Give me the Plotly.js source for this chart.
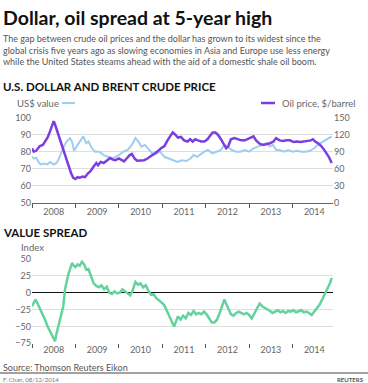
<!DOCTYPE html>
<html><head><meta charset="utf-8">
<script src="https://cdn.plot.ly/plotly-3.0.1.min.js"></script>
<style>html,body{margin:0;padding:0;background:#fff}#chart{width:368px;height:383px}</style>
</head><body><div id="chart"></div>
<script>
// ---- Data (decimal years) ----
const yearLabels = ['2008','2009','2010','2011','2012','2013','2014'];

const dollarYears = [2008.0,2008.05,2008.1,2008.15,2008.2,2008.28,2008.35,2008.42,2008.5,2008.57,2008.62,2008.68,2008.75,2008.8,2008.87,2008.92,2008.97,
 2009.05,2009.12,2009.18,2009.25,2009.3,2009.38,2009.45,2009.55,2009.65,2009.75,2009.85,2009.92,
 2010.0,2010.1,2010.2,2010.3,2010.38,2010.45,2010.52,2010.6,2010.7,2010.8,2010.88,2010.95,
 2011.05,2011.15,2011.25,2011.35,2011.45,2011.55,2011.65,2011.72,2011.8,2011.9,2011.97,
 2012.05,2012.15,2012.25,2012.35,2012.43,2012.5,2012.6,2012.7,2012.8,2012.9,
 2013.0,2013.1,2013.2,2013.3,2013.4,2013.48,2013.55,2013.62,2013.7,2013.8,2013.9,
 2014.0,2014.1,2014.2,2014.3,2014.4,2014.5,2014.58,2014.65,2014.72,2014.8,2014.9];
const dollarValues = [77,76,76.5,74,72.5,73,72.5,74,72.5,73.5,76,80,84,86,88,86,80.5,
 84,87,89,85,86,82,80,80,78,77,76,77,
 78,80,81,84,88,86,83,84,81,78,79,80,
 77,76,75,74,75,74.5,76,78,77,79,80,
 81,79,80,81,84,83,81,80,80,81,
 80,82,83,84,85,83,84,81,81,80,81,
 80,80.5,80,80,80.5,82,84,85,86,87.5,89];

const oilYears = [2008.0,2008.04,2008.1,2008.18,2008.25,2008.3,2008.36,2008.41,2008.46,2008.5,2008.53,2008.58,2008.64,2008.7,2008.76,2008.8,2008.85,2008.9,2008.95,
 2009.0,2009.05,2009.1,2009.16,2009.22,2009.28,2009.35,2009.42,2009.48,2009.52,2009.58,2009.65,2009.72,2009.8,2009.86,2009.92,
 2010.0,2010.05,2010.12,2010.18,2010.25,2010.3,2010.36,2010.42,2010.5,2010.58,2010.66,2010.74,2010.82,2010.9,2010.97,
 2011.05,2011.12,2011.18,2011.24,2011.3,2011.36,2011.43,2011.5,2011.58,2011.64,2011.7,2011.76,2011.82,2011.9,2011.97,
 2012.04,2012.1,2012.16,2012.22,2012.28,2012.35,2012.42,2012.47,2012.52,2012.58,2012.66,2012.74,2012.82,2012.9,2012.97,
 2013.04,2013.1,2013.16,2013.24,2013.32,2013.4,2013.48,2013.56,2013.62,2013.7,2013.78,2013.86,2013.94,
 2014.02,2014.1,2014.18,2014.26,2014.34,2014.42,2014.47,2014.52,2014.6,2014.66,2014.72,2014.78,2014.84,2014.9];
const oilValues = [96,90,92,100,102,108,115,125,134,144,138,126,112,100,85,74,62,52,44,
 42,45,44,46,45,51,56,64,70,66,72,70,74,79,76,75,
 78,76,73,78,84,86,78,74,75,75,78,82,86,91,96,
 100,110,116,124,120,115,116,110,108,112,108,112,110,108,108,
 112,118,124,124,120,112,104,96,100,112,114,112,110,110,112,
 115,117,110,104,102,103,105,108,114,110,109,110,110,
 107,108,107,108,108,110,112,108,104,100,94,88,80,70];

const spreadYears = [2008.0,2008.04,2008.08,2008.12,2008.18,2008.24,2008.3,2008.36,2008.4,2008.44,2008.48,2008.53,2008.56,2008.6,2008.64,2008.68,2008.72,2008.76,2008.8,2008.84,2008.87,2008.92,2008.96,
 2009.0,2009.05,2009.1,2009.15,2009.2,2009.25,2009.3,2009.36,2009.42,2009.48,2009.54,2009.6,2009.66,2009.72,2009.78,2009.84,2009.9,2009.96,
 2010.02,2010.08,2010.14,2010.2,2010.26,2010.32,2010.38,2010.44,2010.5,2010.56,2010.62,2010.68,2010.74,2010.8,2010.86,2010.92,2010.98,
 2011.04,2011.1,2011.16,2011.22,2011.27,2011.32,2011.36,2011.42,2011.48,2011.54,2011.6,2011.66,2011.72,2011.78,2011.84,2011.9,2011.96,
 2012.02,2012.08,2012.14,2012.2,2012.26,2012.32,2012.38,2012.43,2012.48,2012.53,2012.58,2012.64,2012.7,2012.76,2012.82,2012.88,2012.94,
 2013.0,2013.06,2013.12,2013.18,2013.24,2013.3,2013.36,2013.42,2013.48,2013.54,2013.6,2013.66,2013.72,2013.78,2013.84,2013.9,2013.96,
 2014.02,2014.08,2014.14,2014.2,2014.26,2014.32,2014.38,2014.44,2014.5,2014.56,2014.62,2014.68,2014.74,2014.8,2014.86,2014.9];
const spreadValues = [-20,-14,-10,-15,-23,-32,-40,-50,-55,-60,-66,-72,-62,-52,-40,-30,-20,5,18,28,34,44,40,
 38,42,40,46,42,34,35,24,14,10,8,11,5,9,0,-2,2,-1,
 0,5,2,-2,-4,4,16,12,14,8,11,3,-3,-2,-8,-11,-14,
 -18,-26,-34,-44,-50,-42,-35,-40,-34,-38,-30,-33,-27,-32,-30,-32,-28,
 -32,-38,-44,-44,-40,-30,-18,-10,-18,-26,-32,-34,-30,-28,-30,-32,-30,
 -33,-38,-30,-24,-16,-20,-22,-24,-27,-30,-28,-26,-29,-27,-30,-27,-28,
 -26,-29,-28,-26,-29,-28,-30,-33,-28,-23,-18,-10,-2,5,14,22];

// ---- Layout helpers (pixel -> paper) ----
const W = 368, H = 383, ML = 32, MR = 35;
const PW = W - ML - MR;
const px = p => (p - ML) / PW;
const py = q => 1 - q / H;

const FONT = 'Lato, "Noto Sans", sans-serif';
const midYears = yearLabels.map(y => Number(y) + 0.5);

const xCommon = {
  range: [2008, 2014.93], tickvals: midYears, ticktext: yearLabels,
  ticks: '', showgrid: false, zeroline: false,
  tickfont: {size: 9, color: '#666', family: FONT},
  minor: {tick0: 2008, dtick: 1, ticks: 'outside', ticklen: 4, tickwidth: 1, tickcolor: '#555', showgrid: false},
  fixedrange: true
};

const traces = [
  {x: dollarYears, y: dollarValues, xaxis: 'x2', yaxis: 'y2', type: 'scatter', mode: 'lines',
   line: {color: '#9fcdf0', width: 2}, hoverinfo: 'skip'},
  {x: oilYears, y: oilValues, xaxis: 'x2', yaxis: 'y3', type: 'scatter', mode: 'lines',
   line: {color: '#7b3fe0', width: 2.5}, hoverinfo: 'skip'},
  {x: spreadYears, y: spreadValues, xaxis: 'x', yaxis: 'y', type: 'scatter', mode: 'lines',
   line: {color: '#63d39c', width: 2.5}, hoverinfo: 'skip'}
];

const ann = (text, x, y, opts) => Object.assign({
  text, x: px(x), y: py(y), xref: 'paper', yref: 'paper', xanchor: 'left', yanchor: 'middle',
  showarrow: false, font: {family: FONT, size: 10, color: '#555'}
}, opts || {});

const layout = {
  width: W, height: H, margin: {l: ML, r: MR, t: 0, b: 0},
  paper_bgcolor: '#fff', plot_bgcolor: '#fff', showlegend: false,
  font: {family: FONT},
  xaxis: Object.assign({anchor: 'y'}, xCommon),
  xaxis2: Object.assign({anchor: 'y2', showline: true, linecolor: '#666', linewidth: 1.5}, xCommon),
  yaxis: {domain: [py(343.3), py(259)], anchor: 'x', range: [-75, 50], dtick: 25, tick0: 0,
    gridcolor: '#dedede', gridwidth: 1, zeroline: true, zerolinecolor: '#111', zerolinewidth: 1.5,
    tickfont: {size: 9, color: '#666', family: FONT}, ticks: '', fixedrange: true},
  yaxis2: {domain: [py(202.7), py(117.7)], anchor: 'x2', range: [50, 100], dtick: 10,
    gridcolor: '#dedede', gridwidth: 1, zeroline: false,
    tickfont: {size: 9, color: '#666', family: FONT}, ticks: '', fixedrange: true},
  yaxis3: {overlaying: 'y2', side: 'right', anchor: 'x2', range: [0, 150], dtick: 30,
    showgrid: false, zeroline: false,
    tickfont: {size: 9, color: '#666', family: FONT}, ticks: '', fixedrange: true},
  annotations: [
    ann('Dollar, oil spread at 5-year high', 1, 17, {font: {family: FONT, size: 19.5, color: '#111', weight: 'bold'}}),
    ann('The gap between crude oil prices and the dollar has grown to its widest since the<br>global crisis five years ago as slowing economies in Asia and Europe use less energy<br>while the United States steams ahead with the aid of a domestic shale oil boom.',
        1, 49.5, {align: 'left', font: {family: FONT, size: 9, color: '#555'}}),
    ann('U.S. DOLLAR AND BRENT CRUDE PRICE', 1, 86, {font: {family: FONT, size: 11.5, color: '#111', weight: 'bold'}}),
    ann('US$ value', 15, 103, {font: {family: FONT, size: 9.5, color: '#666'}}),
    ann('Oil price, $/barrel', 280, 103, {font: {family: FONT, size: 9.5, color: '#666'}}),
    ann('VALUE SPREAD', 1, 232, {font: {family: FONT, size: 11.5, color: '#111', weight: 'bold'}}),
    ann('Index', 19, 247, {font: {family: FONT, size: 9.5, color: '#666'}}),
    ann('Source: Thomson Reuters Eikon', 1, 367.5, {font: {family: FONT, size: 9, color: '#555'}}),
    ann('F. Chan, 08/12/2014', 1, 379, {font: {family: FONT, size: 6, color: '#777'}}),
    ann('REUTERS', 366, 379, {xanchor: 'right', font: {family: FONT, size: 6, color: '#555', weight: 'bold'}})
  ],
  shapes: [
    {type: 'line', xref: 'paper', yref: 'paper', x0: px(62), x1: px(75), y0: py(103), y1: py(103),
     line: {color: '#9fcdf0', width: 2}},
    {type: 'line', xref: 'paper', yref: 'paper', x0: px(261), x1: px(275), y0: py(103), y1: py(103),
     line: {color: '#7b3fe0', width: 2.5}},
    {type: 'line', xref: 'paper', yref: 'paper', x0: px(0), x1: px(368), y0: py(373), y1: py(373),
     line: {color: '#444', width: 1}}
  ]
};

Plotly.newPlot('chart', traces, layout, {staticPlot: true, displayModeBar: false});
</script>
</body></html>
